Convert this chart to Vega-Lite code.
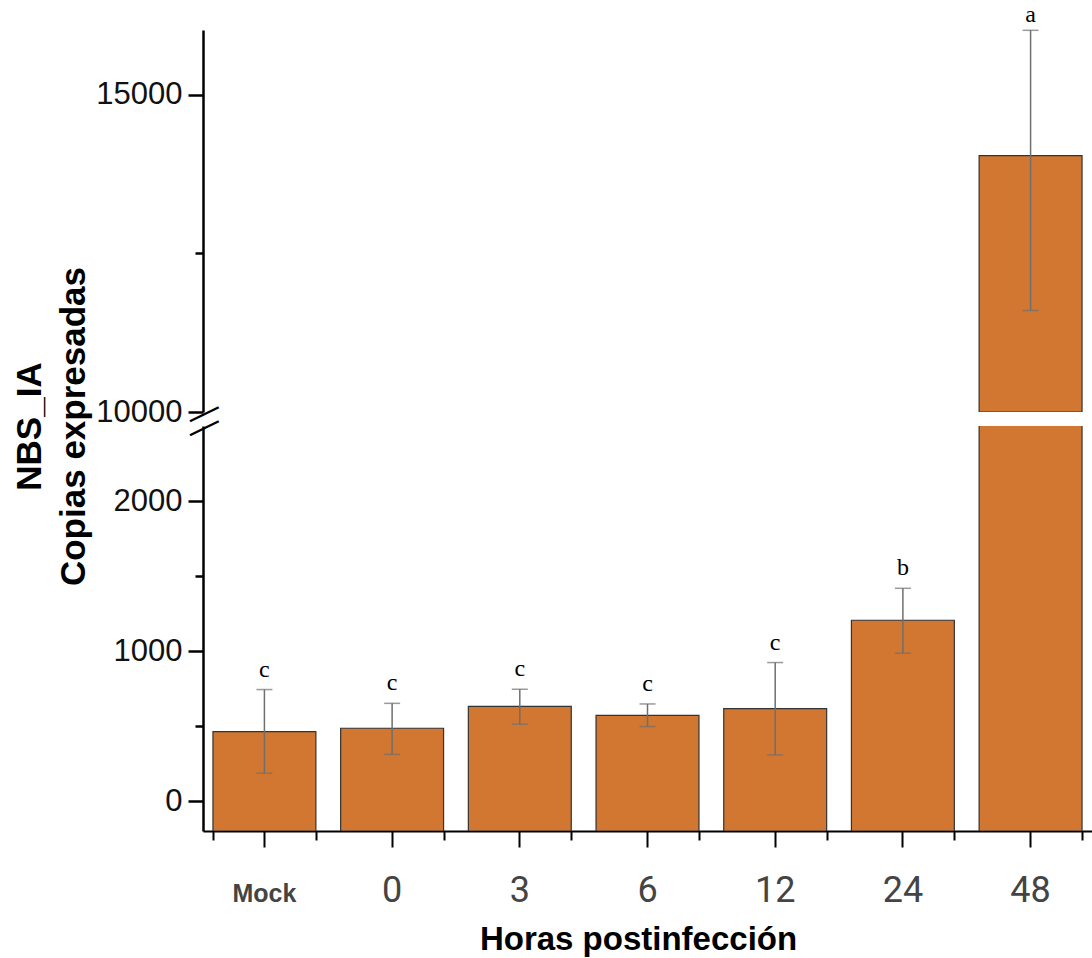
{
  "$schema": "https://vega.github.io/schema/vega-lite/v6.json",
  "background": "white",
  "padding": {"left": 12, "top": 3, "right": 5, "bottom": 2},
  "bounds": "flush",
  "spacing": 14,
  "config": {"view": {"stroke": null}, "axis": {"grid": false}},
  "data": {
    "values": [
      {"cat": "Mock", "value": 463, "err_lo": 185, "err_hi": 743, "letter": "c"},
      {"cat": "0", "value": 485, "err_lo": 311, "err_hi": 651, "letter": "c"},
      {"cat": "3", "value": 631, "err_lo": 512, "err_hi": 745, "letter": "c"},
      {"cat": "6", "value": 571, "err_lo": 496, "err_hi": 647, "letter": "c"},
      {"cat": "12", "value": 616, "err_lo": 307, "err_hi": 923, "letter": "c"},
      {"cat": "24", "value": 1205, "err_lo": 985, "err_hi": 1418, "letter": "b"},
      {"cat": "48", "value": 14040, "err_lo": 11600, "err_hi": 16015, "letter": "a"}
    ]
  },
  "vconcat": [
    {
      "width": 889,
      "height": 382,
      "transform": [{"filter": "datum.value >= 10000"}],
      "resolve": {"axis": {"x": "independent", "y": "independent"}},
      "layer": [
        {
          "mark": {"type": "bar", "fill": "#d17731", "stroke": "#333333", "strokeWidth": 1.2, "clip": true},
          "encoding": {
            "x": {"field": "cat", "type": "nominal", "sort": ["Mock", "0", "3", "6", "12", "24", "48"], "scale": {"domain": ["Mock", "0", "3", "6", "12", "24", "48"], "paddingInner": 0.194, "paddingOuter": 0.078}, "axis": null},
            "y": {"field": "value", "type": "quantitative", "scale": {"domain": [10000, 16020], "zero": false, "nice": false},
              "axis": {"orient": "left", "values": [10000, 15000], "format": "d", "domainColor": "black", "domainWidth": 2.5, "tickColor": "black", "tickWidth": 2.5, "tickSize": 15,
                "labelFont": "Liberation Sans", "labelFontSize": 31, "labelColor": "#111", "labelPadding": 6, "labelFlush": false, "labelOverlap": false,
                "title": ["NBS_IA", "Copias expresadas"], "titleFont": "Liberation Sans", "titleFontSize": 35, "titleFontWeight": "bold", "titleColor": "black",
                "titleLineHeight": 44, "titleX": -156, "titleY": 396, "titleAlign": "center", "titleBaseline": "bottom", "titleAngle": 270}},
            "y2": {"datum": 10000}
          }
        },
        {
          "mark": {"type": "rule", "color": "#6f6f6f", "strokeWidth": 1.5},
          "encoding": {
            "x": {"field": "cat", "type": "nominal", "scale": {"domain": ["Mock", "0", "3", "6", "12", "24", "48"]}, "axis": null},
            "y": {"field": "err_lo", "type": "quantitative", "scale": {"domain": [10000, 16020], "zero": false, "nice": false},
              "axis": {"orient": "left", "values": [12500], "domain": false, "labels": false, "tickColor": "black", "tickWidth": 2.5, "tickSize": 8, "title": null}},
            "y2": {"field": "err_hi"}
          }
        },
        {
          "mark": {"type": "tick", "color": "#6f6f6f", "thickness": 1.5, "size": 16},
          "encoding": {
            "x": {"field": "cat", "type": "nominal", "scale": {"domain": ["Mock", "0", "3", "6", "12", "24", "48"]}, "axis": null},
            "y": {"field": "err_lo", "type": "quantitative", "scale": {"domain": [10000, 16020], "zero": false, "nice": false},
              "axis": {"orient": "left", "values": [10000], "domain": false, "ticks": false, "tickSize": 0, "labelExpr": "'—'", "labelAngle": -26, "labelAlign": "center", "labelBaseline": "middle", "labelPadding": 0, "labelFont": "Liberation Sans", "labelFontSize": 32, "labelColor": "black", "labelFlush": false, "title": null}}
          }
        },
        {
          "mark": {"type": "tick", "color": "#6f6f6f", "thickness": 1.5, "size": 16},
          "encoding": {
            "x": {"field": "cat", "type": "nominal", "scale": {"domain": ["Mock", "0", "3", "6", "12", "24", "48"]}, "axis": null},
            "y": {"field": "err_hi", "type": "quantitative", "scale": {"domain": [10000, 16020], "zero": false, "nice": false}, "axis": null}
          }
        },
        {
          "mark": {"type": "text", "font": "Liberation Serif", "fontSize": 24, "color": "black", "baseline": "alphabetic", "align": "center", "dy": -8},
          "encoding": {
            "x": {"field": "cat", "type": "nominal", "scale": {"domain": ["Mock", "0", "3", "6", "12", "24", "48"]}, "axis": null},
            "y": {"field": "err_hi", "type": "quantitative", "scale": {"domain": [10000, 16020], "zero": false, "nice": false}, "axis": null},
            "text": {"field": "letter"}
          }
        }
      ]
    },
    {
      "width": 889,
      "height": 405,
      "resolve": {"axis": {"x": "independent", "y": "independent"}},
      "layer": [
        {
          "mark": {"type": "bar", "fill": "#d17731", "stroke": "#333333", "strokeWidth": 1.2, "clip": true},
          "encoding": {
            "x": {"field": "cat", "type": "nominal", "sort": ["Mock", "0", "3", "6", "12", "24", "48"], "scale": {"domain": ["Mock", "0", "3", "6", "12", "24", "48"], "paddingInner": 0.194, "paddingOuter": 0.078},
              "axis": {"orient": "bottom", "labelAngle": 0, "domainColor": "black", "domainWidth": 2, "tickColor": "black", "tickWidth": 2, "tickSize": 16,
                "labelBaseline": "alphabetic", "labelPadding": 54, "labelColor": "#444",
                "labelFont": {"expr": "datum.value === 'Mock' ? 'Liberation Sans' : 'Roboto'"},
                "labelFontSize": {"expr": "datum.value === 'Mock' ? 25 : 36"},
                "labelFontWeight": {"expr": "datum.value === 'Mock' ? 'bold' : 'normal'"},
                "title": "Horas postinfección", "titleFont": "Liberation Sans", "titleFontSize": 33, "titleFontWeight": "bold", "titleColor": "black",
                "titleBaseline": "alphabetic", "titleX": 435, "titleY": 118, "titleAlign": "center"}},
            "y": {"field": "value", "type": "quantitative", "scale": {"domain": [-200, 2500], "zero": false, "nice": false},
              "axis": {"orient": "left", "values": [0, 1000, 2000], "format": "d", "domainColor": "black", "domainWidth": 2.5, "tickColor": "black", "tickWidth": 2.5, "tickSize": 15,
                "labelFont": "Liberation Sans", "labelFontSize": 31, "labelColor": "#111", "labelPadding": 6, "labelFlush": false, "labelOverlap": false, "title": null}},
            "y2": {"datum": -200}
          }
        },
        {
          "transform": [{"filter": "datum.err_hi < 2500"}],
          "mark": {"type": "rule", "color": "#6f6f6f", "strokeWidth": 1.5},
          "encoding": {
            "x": {"field": "cat", "type": "nominal", "scale": {"domain": ["Mock", "0", "3", "6", "12", "24", "48"]},
              "axis": {"orient": "bottom", "tickBand": "extent", "domain": false, "labels": false, "tickColor": "black", "tickWidth": 2, "tickSize": 9, "title": null}},
            "y": {"field": "err_lo", "type": "quantitative", "scale": {"domain": [-200, 2500], "zero": false, "nice": false},
              "axis": {"orient": "left", "values": [500, 1500], "domain": false, "labels": false, "tickColor": "black", "tickWidth": 2.5, "tickSize": 8, "title": null}},
            "y2": {"field": "err_hi"}
          }
        },
        {
          "transform": [{"filter": "datum.err_hi < 2500"}],
          "mark": {"type": "tick", "color": "#6f6f6f", "thickness": 1.5, "size": 16},
          "encoding": {
            "x": {"field": "cat", "type": "nominal", "scale": {"domain": ["Mock", "0", "3", "6", "12", "24", "48"]}, "axis": null},
            "y": {"field": "err_lo", "type": "quantitative", "scale": {"domain": [-200, 2500], "zero": false, "nice": false},
              "axis": {"orient": "left", "values": [2500], "domain": false, "ticks": false, "tickSize": 0, "labelExpr": "'—'", "labelAngle": -26, "labelAlign": "center", "labelBaseline": "middle", "labelPadding": 0, "labelFont": "Liberation Sans", "labelFontSize": 32, "labelColor": "black", "labelFlush": false, "title": null}}
          }
        },
        {
          "transform": [{"filter": "datum.err_hi < 2500"}],
          "mark": {"type": "tick", "color": "#6f6f6f", "thickness": 1.5, "size": 16},
          "encoding": {
            "x": {"field": "cat", "type": "nominal", "scale": {"domain": ["Mock", "0", "3", "6", "12", "24", "48"]}, "axis": null},
            "y": {"field": "err_hi", "type": "quantitative", "scale": {"domain": [-200, 2500], "zero": false, "nice": false}, "axis": null}
          }
        },
        {
          "transform": [{"filter": "datum.err_hi < 2500"}],
          "mark": {"type": "text", "font": "Liberation Serif", "fontSize": 24, "color": "black", "baseline": "alphabetic", "align": "center", "dy": -13},
          "encoding": {
            "x": {"field": "cat", "type": "nominal", "scale": {"domain": ["Mock", "0", "3", "6", "12", "24", "48"]}, "axis": null},
            "y": {"field": "err_hi", "type": "quantitative", "scale": {"domain": [-200, 2500], "zero": false, "nice": false}, "axis": null},
            "text": {"field": "letter"}
          }
        }
      ]
    }
  ]
}
